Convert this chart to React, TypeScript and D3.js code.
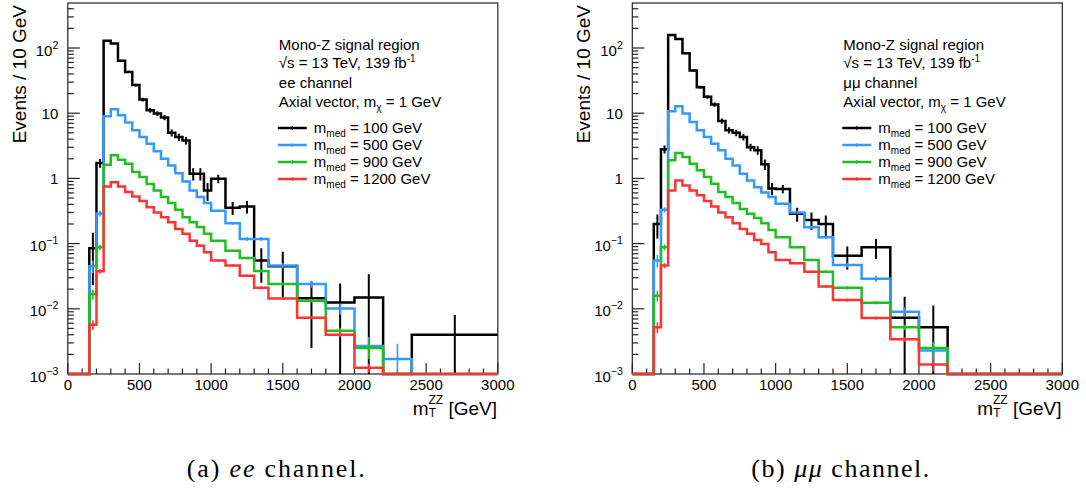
import React from 'react';
import * as d3 from 'd3';

// Bin edges of m_T^ZZ [GeV]
const binEdges = [0, 150, 200, 250, 300, 350, 400, 450, 500, 550, 600, 650, 700, 750, 800, 850, 900, 950, 1000, 1100, 1200, 1300, 1400, 1600, 1800, 2000, 2200, 2400, 3000];

// ee channel (events / 10 GeV)
const eeMed100 = [0, 0.085, 1.72, 129, 117, 64, 43, 27, 16.2, 11.1, 9.9, 8.6, 5.0, 4.3, 3.8, 1.18, 1.18, 0.65, 0.99, 0.354, 0.37, 0.055, 0.045, 0.0145, 0.0125, 0.0149, 0, 0.004];
const eeMed500 = [0, 0.045, 0.29, 9.0, 11.5, 9.3, 7.2, 5.5, 4.3, 3.4, 2.6, 2.0, 1.58, 1.2, 0.9, 0.65, 0.52, 0.42, 0.32, 0.205, 0.118, 0.118, 0.046, 0.024, 0.0101, 0.0027, 0.0017, 0];
const eeMed900 = [0, 0.0168, 0.088, 1.62, 2.26, 1.94, 1.68, 1.25, 1.05, 0.82, 0.65, 0.52, 0.42, 0.33, 0.254, 0.213, 0.18, 0.141, 0.111, 0.078, 0.060, 0.038, 0.024, 0.0133, 0.0046, 0.0025, 0, 0];
const eeMed1200 = [0, 0.0057, 0.0375, 0.75, 0.87, 0.75, 0.62, 0.53, 0.45, 0.36, 0.30, 0.254, 0.213, 0.168, 0.141, 0.111, 0.093, 0.074, 0.055, 0.046, 0.032, 0.021, 0.0144, 0.0073, 0.004, 0.00125, 0, 0];

const eeErr100 = [0, 0.062, 0.26, 3, 3, 2.2, 1.8, 1.4, 1.1, 0.9, 0.85, 0.8, 0.6, 0.55, 0.5, 0.25, 0.25, 0.2, 0.15, 0.08, 0.08, 0.03, 0.03, 0.012, 0.012, 0.019, 0, 0.004];
const eeErr500 = [0, 0.01, 0.03, 0.15, 0.17, 0.15, 0.12, 0.1, 0.08, 0.07, 0.06, 0.05, 0.04, 0.035, 0.03, 0.025, 0.02, 0.018, 0.012, 0.01, 0.008, 0.008, 0.004, 0.003, 0.002, 0.001, 0.0012, 0];
const eeErr900 = [0, 0.003, 0.008, 0.03, 0.035, 0.03, 0.027, 0.022, 0.02, 0.017, 0.014, 0.012, 0.01, 0.009, 0.008, 0.007, 0.006, 0.005, 0.004, 0.003, 0.0025, 0.002, 0.0012, 0.0008, 0.0005, 0.0008, 0, 0];
const eeErr1200 = [0, 0.001, 0.003, 0.012, 0.014, 0.012, 0.011, 0.01, 0.009, 0.008, 0.007, 0.006, 0.005, 0.005, 0.004, 0.004, 0.0035, 0.003, 0.002, 0.002, 0.0015, 0.0012, 0.0007, 0.0004, 0.0003, 0.0002, 0, 0];

// mumu channel (events / 10 GeV)
const mmMed100 = [0, 0.2, 2.8, 158, 138, 83, 45, 25, 17.8, 13.6, 7.6, 5.5, 5.0, 4.3, 3.0, 2.7, 1.65, 0.7, 0.69, 0.286, 0.231, 0.2, 0.065, 0.088, 0.0073, 0.0052, 0, 0];
const mmMed500 = [0, 0.055, 0.33, 10.7, 12.8, 9.9, 7.3, 5.5, 4.3, 3.4, 2.7, 2.0, 1.58, 1.18, 0.93, 0.73, 0.61, 0.52, 0.41, 0.30, 0.178, 0.125, 0.047, 0.029, 0.009, 0.0023, 0, 0];
const mmMed900 = [0, 0.0159, 0.088, 1.9, 2.45, 2.13, 1.68, 1.33, 1.05, 0.83, 0.62, 0.52, 0.42, 0.34, 0.286, 0.248, 0.206, 0.162, 0.125, 0.088, 0.056, 0.037, 0.021, 0.0124, 0.0052, 0.0025, 0, 0];
const mmMed1200 = [0, 0.0052, 0.046, 0.65, 0.93, 0.78, 0.65, 0.55, 0.45, 0.37, 0.30, 0.254, 0.206, 0.168, 0.141, 0.114, 0.099, 0.074, 0.056, 0.05, 0.037, 0.022, 0.0136, 0.0072, 0.0034, 0.0014, 0, 0];

const mmErr100 = [0, 0.08, 0.4, 3.5, 3.3, 2.5, 1.8, 1.3, 1.1, 1.0, 0.7, 0.6, 0.55, 0.5, 0.4, 0.4, 0.3, 0.15, 0.1, 0.07, 0.07, 0.07, 0.025, 0.03, 0.008, 0.006, 0, 0];
const mmErr500 = [0, 0.012, 0.03, 0.16, 0.18, 0.16, 0.12, 0.1, 0.08, 0.07, 0.06, 0.05, 0.04, 0.035, 0.03, 0.025, 0.02, 0.018, 0.013, 0.011, 0.008, 0.007, 0.004, 0.003, 0.0015, 0.0008, 0, 0];
const mmErr900 = [0, 0.003, 0.009, 0.035, 0.04, 0.035, 0.03, 0.025, 0.02, 0.017, 0.014, 0.012, 0.01, 0.009, 0.008, 0.007, 0.006, 0.005, 0.004, 0.003, 0.0025, 0.002, 0.0012, 0.0008, 0.0005, 0.0006, 0, 0];
const mmErr1200 = [0, 0.001, 0.004, 0.012, 0.015, 0.013, 0.011, 0.01, 0.009, 0.008, 0.007, 0.006, 0.005, 0.005, 0.004, 0.004, 0.0035, 0.003, 0.002, 0.002, 0.0015, 0.0012, 0.0007, 0.0004, 0.0003, 0.0003, 0, 0];

const seriesLabels = ['100', '500', '900', '1200'];
const seriesColors = ['#000000', '#3399ff', '#1fbf1f', '#ff3333'];

const xMajorTicks = [0, 500, 1000, 1500, 2000, 2500, 3000];
const yMajorTicks = [1e-3, 1e-2, 1e-1, 1, 10, 100];
const yTickBase = ['10', '10', '10', '1', '10', '10'];
const yTickExp = ['\u22123', '\u22122', '\u22121', '', '', '2'];

const X_MAX = 3000;
const Y_MIN = 1e-3;
const Y_MAX = 490;

const FONT = "'Liberation Sans', Arial, Helvetica, sans-serif";
const SERIF = "'Liberation Serif', 'Times New Roman', serif";

const PLOT_W = 430;
const PLOT_TOP = 3;
const PLOT_BOTTOM = 374;

function Panel({ ox, values, errors, channel, captionLetter, captionChan, id }) {
  const x = d3.scaleLinear().domain([0, X_MAX]).range([ox, ox + PLOT_W]);
  const y = d3.scaleLog().domain([Y_MIN, Y_MAX]).range([PLOT_BOTTOM, PLOT_TOP]);
  const yv = (v) => (v > Y_MIN ? y(Math.min(v, Y_MAX)) : y(Y_MIN));

  const stepPath = (vals) => {
    let d = `M${x(binEdges[0])},${yv(vals[0])}`;
    for (let i = 0; i < vals.length; i++) {
      d += `H${x(binEdges[i + 1])}`;
      if (i + 1 < vals.length) d += `V${yv(vals[i + 1])}`;
    }
    return d;
  };

  const xMinor = d3.range(0, X_MAX + 1, 100).filter((t) => t % 500 !== 0);
  const yMinor = [];
  for (let k = -3; k <= 2; k++) {
    for (let m = 2; m <= 9; m++) {
      const v = m * Math.pow(10, k);
      if (v < Y_MAX) yMinor.push(v);
    }
  }

  const lx = ox + 210;
  const legendRows = [128, 145, 162, 179];

  return (
    <g>
      <defs>
        <clipPath id={id}>
          <rect x={ox} y={PLOT_TOP} width={PLOT_W} height={PLOT_BOTTOM - PLOT_TOP + 2} />
        </clipPath>
      </defs>
      {/* frame */}
      <rect x={ox} y={PLOT_TOP} width={PLOT_W} height={PLOT_BOTTOM - PLOT_TOP} fill="none" stroke="#222" strokeWidth={1.2} />
      {/* x ticks */}
      {xMajorTicks.map((t) => (
        <line key={'xM' + t} x1={x(t)} x2={x(t)} y1={PLOT_BOTTOM} y2={PLOT_BOTTOM - 11} stroke="#222" strokeWidth={1.2} />
      ))}
      {xMinor.map((t) => (
        <line key={'xm' + t} x1={x(t)} x2={x(t)} y1={PLOT_BOTTOM} y2={PLOT_BOTTOM - 5.5} stroke="#222" strokeWidth={1.2} />
      ))}
      {xMajorTicks.map((t) => (
        <text key={'xl' + t} x={x(t)} y={390} textAnchor="middle" fontFamily={FONT} fontSize={15} fill="#000">{t}</text>
      ))}
      {/* y ticks */}
      {yMajorTicks.map((t) => (
        <line key={'yM' + t} x1={ox} x2={ox + 12} y1={y(t)} y2={y(t)} stroke="#222" strokeWidth={1.2} />
      ))}
      {yMinor.map((t) => (
        <line key={'ym' + t} x1={ox} x2={ox + 6} y1={y(t)} y2={y(t)} stroke="#222" strokeWidth={1.2} />
      ))}
      {yMajorTicks.map((t, i) => (
        <text key={'yl' + t} x={ox - 9.5} y={y(t) + (yTickExp[i] ? 7.5 : 5.5)} textAnchor="end" fontFamily={FONT} fontSize={15} fill="#000">
          <tspan>{yTickBase[i]}</tspan>
          {yTickExp[i] ? <tspan dy={-7} fontSize={10.5}>{yTickExp[i]}</tspan> : null}
        </text>
      ))}
      {/* axis titles */}
      <text transform={`translate(${ox - 42},5) rotate(-90)`} textAnchor="end" fontFamily={FONT} fontSize={19} fill="#000">Events / 10 GeV</text>
      <text x={ox + 345} y={415} fontFamily={FONT} fontSize={19} fill="#000">
        <tspan>m</tspan>
        <tspan dy={2} fontSize={12}>T</tspan>
        <tspan dx={-7.5} dy={-13} fontSize={12}>ZZ</tspan>
        <tspan dy={11}> [GeV]</tspan>
      </text>
      {/* histograms */}
      <g clipPath={`url(#${id})`}>
        {values.map((vals, s) => (
          <g key={'s' + s}>
            <path d={stepPath(vals)} fill="none" stroke={seriesColors[s]} strokeWidth={2.5} strokeLinejoin="miter" />
            {vals.map((v, i) => {
              if (!(v > 0)) return null;
              const e = errors[s][i];
              const cx = x((binEdges[i] + binEdges[i + 1]) / 2);
              const top = yv(v + e);
              const bot = v - e > Y_MIN ? y(v - e) : y(Y_MIN);
              return <line key={'e' + i} x1={cx} x2={cx} y1={top} y2={bot} stroke={seriesColors[s]} strokeWidth={s === 0 ? 2 : 1.6} />;
            })}
          </g>
        ))}
      </g>
      {/* legend */}
      <text x={lx + 1} y={50} fontFamily={FONT} fontSize={15} fill="#000">Mono-Z signal region</text>
      <text x={lx + 1} y={68} fontFamily={FONT} fontSize={15} fill="#000">
        <tspan>{'\u221As = 13 TeV, 139 fb'}</tspan>
        <tspan dy={-6} fontSize={10}>-1</tspan>
      </text>
      <text x={lx + 1} y={88} fontFamily={FONT} fontSize={15} fill="#000">{channel}</text>
      <text x={lx + 1} y={107} fontFamily={FONT} fontSize={15} fill="#000">
        <tspan>Axial vector, m</tspan>
        <tspan dy={4} fontSize={10}>{'\u03C7'}</tspan>
        <tspan dy={-4}> = 1 GeV</tspan>
      </text>
      {seriesLabels.map((lab, s) => (
        <g key={'lg' + s}>
          <line x1={lx} x2={lx + 29} y1={legendRows[s]} y2={legendRows[s]} stroke={seriesColors[s]} strokeWidth={2.5} />
          <line x1={lx + 14.5} x2={lx + 14.5} y1={legendRows[s] - 2} y2={legendRows[s] + 2} stroke={seriesColors[s]} strokeWidth={1} />
          <text x={lx + 36} y={legendRows[s] + 5} fontFamily={FONT} fontSize={15} fill="#000">
            <tspan>m</tspan>
            <tspan dy={4} fontSize={10}>med</tspan>
            <tspan dy={-4}>{` = ${lab} GeV`}</tspan>
          </text>
        </g>
      ))}
      {/* caption */}
      <text x={ox + 119} y={476.5} fontFamily={SERIF} fontSize={26} fill="#000" textLength={178} lengthAdjust="spacing">
        <tspan>{`(${captionLetter}) `}</tspan>
        <tspan fontStyle="italic">{captionChan}</tspan>
        <tspan> channel.</tspan>
      </text>
    </g>
  );
}

export default function App() {
  return (
    <svg width={1086} height={489} style={{ position: 'absolute', left: 0, top: 0, background: '#fff' }}>
      <rect x={0} y={0} width={1086} height={489} fill="#fff" />
      <Panel
        id="clipEE"
        ox={67.8}
        values={[eeMed100, eeMed500, eeMed900, eeMed1200]}
        errors={[eeErr100, eeErr500, eeErr900, eeErr1200]}
        channel="ee channel"
        captionLetter="a"
        captionChan="ee"
      />
      <Panel
        id="clipMM"
        ox={632.3}
        values={[mmMed100, mmMed500, mmMed900, mmMed1200]}
        errors={[mmErr100, mmErr500, mmErr900, mmErr1200]}
        channel={'\u03BC\u03BC channel'}
        captionLetter="b"
        captionChan={'\u03BC\u03BC'}
      />
    </svg>
  );
}
